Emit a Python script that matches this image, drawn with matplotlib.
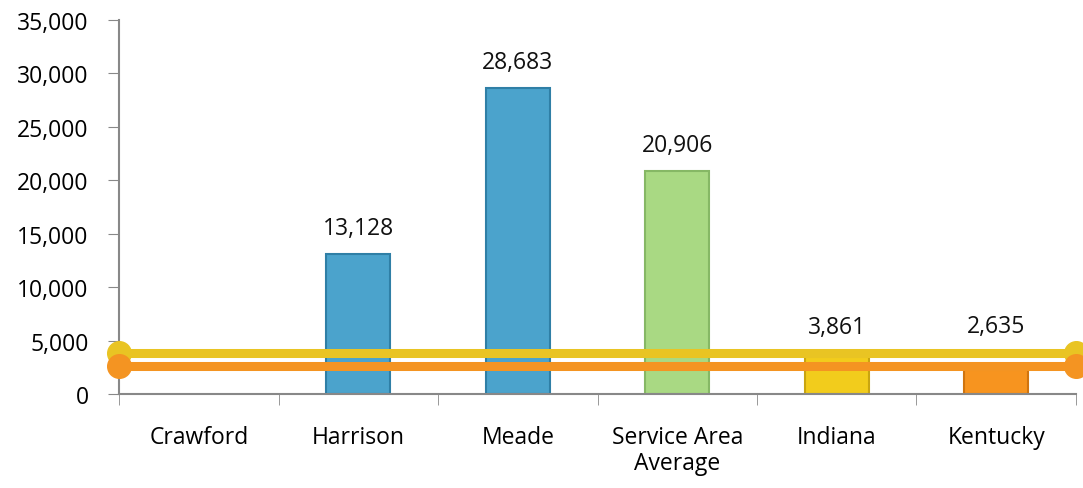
import numpy as np
import matplotlib.pyplot as plt

# values
categories = ["Crawford", "Harrison", "Meade", "Service Area\nAverage", "Indiana", "Kentucky"]
values = [np.nan, 13128, 28683, 20906, 3861, 2635]
bar_colors = ["#4BA3CC", "#4BA3CC", "#4BA3CC", "#A9D983", "#F2CC1C", "#F7941F"]
edge_colors = ["#2F7FA6", "#2F7FA6", "#2F7FA6", "#86B865", "#C9A510", "#D0740E"]
label_offsets = [10, 10, 10, 10, 10, 20]  # points above bar top
indiana_ref = 3861
kentucky_ref = 2635

plt.rcParams["font.family"] = ["Open Sans", "DejaVu Sans"]
fs = 16.5

fig = plt.figure(figsize=(10.83, 4.89), dpi=100)
ax = fig.add_axes([0.110, 0.192, 0.8835, 0.765])

x = np.arange(len(categories))
bars = ax.bar(x, values, width=0.4, color=bar_colors, edgecolor=edge_colors, linewidth=1.5, zorder=2)

for xi, v, off in zip(x, values, label_offsets):
    if not np.isnan(v):
        ax.annotate(f"{v:,.0f}", (xi, v), xytext=(0, off), textcoords="offset points",
                    ha="center", va="bottom", fontsize=fs, color="#111111")

# reference lines for the states
for ref, col in [(indiana_ref, "#E9C423"), (kentucky_ref, "#F49422")]:
    ax.plot([-0.5, len(categories) - 0.5], [ref, ref], color=col, lw=6.5,
            marker="o", markersize=17, solid_capstyle="butt", zorder=3, clip_on=False)

ax.set_xlim(-0.5, len(categories) - 0.5)
ax.set_ylim(0, 35000)
ax.set_yticks(np.arange(0, 35001, 5000))
ax.set_yticklabels([f"{t:,}" for t in range(0, 35001, 5000)], fontsize=fs)
ax.set_xticks(x)
ax.set_xticklabels(categories, fontsize=fs, linespacing=1.15)
ax.set_xticks(np.arange(-0.5, len(categories)), minor=True)
ax.tick_params(axis="x", which="major", length=0, pad=22)
ax.tick_params(axis="x", which="minor", length=8, color="#888888", direction="out")
ax.tick_params(axis="y", length=8, color="#888888", pad=14)

for s in ["top", "right"]:
    ax.spines[s].set_visible(False)
for s in ["left", "bottom"]:
    ax.spines[s].set_color("#888888")
    ax.spines[s].set_linewidth(1.5)

fig.savefig("out.png", dpi=100)
